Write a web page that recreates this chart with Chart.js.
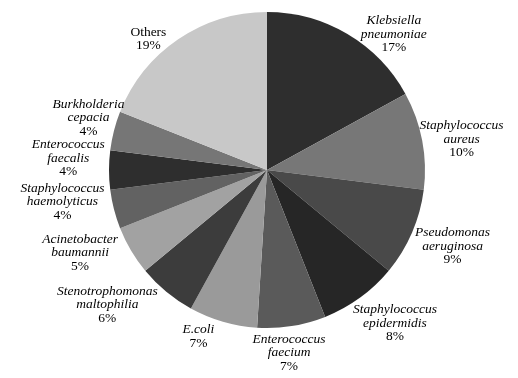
<!DOCTYPE html>
<html>
<head>
<meta charset="utf-8">
<script src="https://cdn.jsdelivr.net/npm/chart.js@4"></script>
<style>
  html, body { margin: 0; padding: 0; background: #fff; }
  #wrap { width: 518px; height: 378px; position: relative; }
</style>
</head>
<body>
<div id="wrap"><canvas id="grafico"></canvas></div>
<script>
// Dados do gráfico (sentido horário a partir do topo)
const categorias = [
  "Klebsiella pneumoniae",
  "Staphylococcus aureus",
  "Pseudomonas aeruginosa",
  "Staphylococcus epidermidis",
  "Enterococcus faecium",
  "E.coli",
  "Stenotrophomonas maltophilia",
  "Acinetobacter baumannii",
  "Staphylococcus haemolyticus",
  "Enterococcus faecalis",
  "Burkholderia cepacia",
  "Others",
];
const percentuais = [17, 10, 9, 8, 7, 7, 6, 5, 4, 4, 4, 19];
const cores = [
  "#2e2e2e", "#777777", "#494949", "#262626", "#5a5a5a", "#9a9a9a",
  "#3c3c3c", "#a2a2a2", "#626262", "#2e2e2e", "#767676", "#c8c8c8",
];

// Rótulos externos (nome em itálico + percentual)
const rotulosExternos = {
  id: "rotulosExternos",
  afterDraw(chart, args, opts) {
    const ctx = chart.ctx;
    const meta = chart.getDatasetMeta(0);
    const lh = 13.5;
    meta.data.forEach((arc, i) => {
      const nome = categorias[i];
      const italico = nome !== "Others";
      const linhas = italico ? nome.split(" ") : [nome];
      linhas.push(percentuais[i] + "%");
      const mid =
        (arc.startAngle + arc.endAngle) / 2 + (opts.ajusteAngulo[i] * Math.PI) / 180;
      const r = arc.outerRadius + opts.distancia[i];
      const cx = arc.x + r * Math.cos(mid);
      const cy = arc.y + r * Math.sin(mid);
      ctx.save();
      ctx.fillStyle = "#000";
      ctx.textAlign = "center";
      ctx.textBaseline = "middle";
      let y = cy - ((linhas.length - 1) * lh) / 2;
      linhas.forEach((l, k) => {
        const ehPct = k === linhas.length - 1;
        ctx.font = (italico && !ehPct ? "italic " : "") + "13.5px 'Liberation Serif'";
        ctx.fillText(l, cx, y);
        y += lh;
      });
      ctx.restore();
    });
  },
};

new Chart(document.getElementById("grafico").getContext("2d"), {
  type: "pie",
  data: {
    labels: categorias,
    datasets: [
      {
        data: percentuais,
        backgroundColor: cores,
        borderWidth: 0,
      },
    ],
  },
  options: {
    responsive: true,
    maintainAspectRatio: false,
    animation: false,
    layout: { padding: { top: 12, bottom: 50, left: 100, right: 84 } },
    plugins: {
      legend: { display: false },
      tooltip: { enabled: false },
      rotulosExternos: {
        ajusteAngulo: [12.4, 1.8, -1.1, -3.9, 2.1, 6.2, 10.2, 6.7, 5.6, 3.4, 2.0, -8.0],
        distancia: [28, 39, 42.5, 41.5, 26, 22, 51, 46.5, 49, 41, 28, 18.6],
      },
    },
  },
  plugins: [rotulosExternos],
});
</script>
</body>
</html>
